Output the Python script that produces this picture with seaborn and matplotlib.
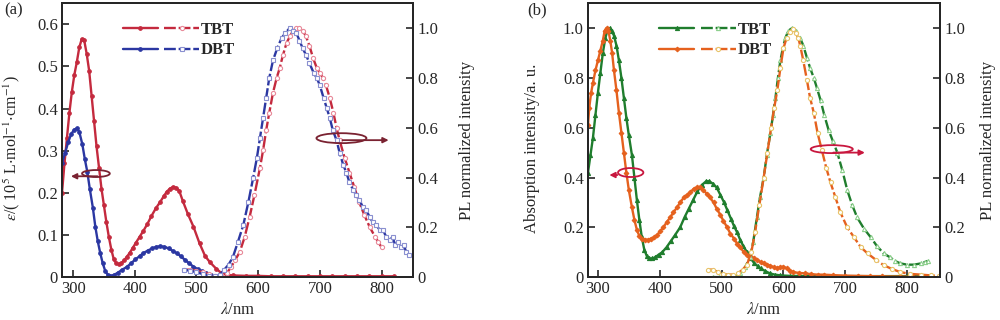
import matplotlib
matplotlib.use('Agg')
import matplotlib.pyplot as plt
import seaborn as sns
from matplotlib.patches import Ellipse
from matplotlib.legend_handler import HandlerTuple
from matplotlib.ticker import FuncFormatter

# ---- data: panel (a) ----
a_tbt_abs_x = [282, 286, 290, 294, 298, 302, 306, 310, 314, 318, 322, 326, 330, 334, 338, 342, 346, 350,
               354, 358, 362, 366, 370, 374, 378, 383, 387, 392, 397, 402, 408, 414, 420, 427, 434, 441,
               447, 452, 457, 462, 467, 472, 478, 486, 495, 505, 514, 522, 532, 540, 550, 560, 580, 600,
               620, 640, 660, 680, 700, 720, 740, 760, 780, 800, 820]
a_tbt_abs_y = [0.20, 0.27, 0.33, 0.39, 0.44, 0.48, 0.51, 0.545, 0.565, 0.562, 0.53, 0.49, 0.43, 0.37, 0.31,
               0.26, 0.21, 0.17, 0.13, 0.095, 0.065, 0.042, 0.033, 0.03, 0.033, 0.04, 0.048, 0.058, 0.07,
               0.082, 0.096, 0.11, 0.125, 0.145, 0.163, 0.178, 0.192, 0.203, 0.21, 0.214, 0.212, 0.205,
               0.18, 0.15, 0.12, 0.08, 0.05, 0.035, 0.02, 0.01, 0.005, 0.004, 0.003, 0.003, 0.002, 0.002,
               0.002, 0.002, 0.002, 0.002, 0.002, 0.002, 0.002, 0.002, 0.002]

a_dbt_abs_x = [282, 287, 292, 297, 302, 306, 310, 315, 319, 323, 327, 332, 336, 340, 344, 348, 352, 356,
               360, 366, 372, 380, 387, 394, 401, 408, 414, 421, 428, 435, 441, 448, 455, 462, 468, 475,
               482, 488, 495, 502, 509, 516, 523, 530]
a_dbt_abs_y = [0.27, 0.295, 0.32, 0.34, 0.35, 0.353, 0.345, 0.315, 0.28, 0.25, 0.21, 0.165, 0.12, 0.085,
               0.057, 0.033, 0.015, 0.006, 0.003, 0.005, 0.01, 0.018, 0.024, 0.033, 0.042, 0.05, 0.057,
               0.063, 0.068, 0.072, 0.073, 0.072, 0.068, 0.062, 0.057, 0.049, 0.04, 0.033, 0.025, 0.019,
               0.014, 0.01, 0.006, 0.003]

a_tbt_pl_x = [480, 490, 500, 510, 520, 530, 540, 549, 556, 563, 570, 578, 586, 594, 603, 608, 613, 618,
              624, 630, 635, 640, 646, 652, 657, 662, 667, 672, 677, 683, 689, 695, 700, 705, 710, 716,
              722, 727, 732, 740, 748, 756, 764, 772, 781, 790, 795, 800]
a_tbt_pl_y = [0.03, 0.03, 0.025, 0.02, 0.012, 0.006, 0.008, 0.015, 0.04, 0.07, 0.10, 0.16, 0.24, 0.33,
              0.44, 0.51, 0.59, 0.66, 0.74, 0.80, 0.84, 0.89, 0.94, 0.97, 0.99, 1.0, 1.0, 0.99, 0.97,
              0.93, 0.88, 0.84, 0.82, 0.80, 0.77, 0.72, 0.66, 0.60, 0.55, 0.48, 0.42, 0.36, 0.30, 0.25,
              0.20, 0.16, 0.14, 0.12]

a_dbt_pl_x = [480, 490, 500, 510, 520, 530, 538, 545, 552, 559, 567, 576, 584, 592, 598, 603, 608, 613,
              618, 624, 631, 638, 644, 651, 657, 662, 667, 672, 678, 683, 690, 695, 700, 706, 711, 716,
              721, 727, 732, 738, 743, 748, 754, 759, 764, 770, 775, 781, 786, 791, 797, 802, 808, 813,
              818, 822, 827, 831, 836, 840, 844]
a_dbt_pl_y = [0.03, 0.025, 0.02, 0.012, 0.006, 0.004, 0.01, 0.03, 0.05, 0.08, 0.14, 0.21, 0.30, 0.40,
              0.48, 0.56, 0.64, 0.72, 0.80, 0.87, 0.92, 0.96, 0.98, 1.0, 0.99, 0.98, 0.95, 0.92, 0.89,
              0.86, 0.82, 0.80, 0.77, 0.72, 0.68, 0.64, 0.59, 0.55, 0.50, 0.45, 0.42, 0.38, 0.35, 0.33,
              0.31, 0.28, 0.27, 0.24, 0.22, 0.21, 0.19, 0.19, 0.16, 0.15, 0.16, 0.13, 0.14, 0.12, 0.13,
              0.10, 0.09]

# ---- data: panel (b) ----
b_tbt_abs_x = [284, 288, 292, 296, 300, 304, 308, 312, 316, 319, 322, 326, 330, 334, 338, 342, 346, 350,
               355, 359, 363, 367, 371, 375, 379, 383, 388, 393, 398, 404, 411, 418, 425, 433, 440, 447,
               454, 461, 468, 475, 480, 486, 492, 498, 504, 509, 515, 520, 525, 530, 535, 541, 547, 553,
               558, 563, 570, 578, 586, 595, 610, 640, 680, 720, 760, 800, 830]
b_tbt_abs_y = [0.42, 0.49, 0.56, 0.65, 0.74, 0.82, 0.90, 0.96, 0.995, 1.0, 0.99, 0.97, 0.93, 0.87, 0.80,
               0.72, 0.64, 0.57, 0.49, 0.40, 0.31, 0.23, 0.16, 0.11, 0.085, 0.075, 0.075, 0.08, 0.09,
               0.10, 0.12, 0.145, 0.17, 0.20, 0.24, 0.275, 0.31, 0.345, 0.37, 0.385, 0.385, 0.375, 0.36,
               0.33, 0.30, 0.27, 0.235, 0.205, 0.18, 0.15, 0.125, 0.10, 0.075, 0.055, 0.045, 0.035,
               0.025, 0.015, 0.01, 0.007, 0.005, 0.004, 0.004, 0.004, 0.004, 0.004, 0.004]

b_dbt_abs_x = [284, 286, 289, 292, 296, 300, 304, 308, 311, 314, 317, 320, 323, 326, 330, 334, 338, 342,
               346, 350, 355, 359, 363, 367, 371, 376, 381, 386, 391, 396, 401, 406, 411, 417, 422, 428,
               433, 439, 444, 449, 455, 460, 465, 470, 476, 481, 487, 492, 498, 503, 509, 514, 520, 525,
               530, 536, 541, 547, 552, 557, 563, 568, 574, 579, 584, 590, 595, 600, 605, 611, 616, 625,
               635, 645, 655, 665, 680, 700, 720, 740, 760, 789, 810]
b_dbt_abs_y = [0.61, 0.68, 0.74, 0.78, 0.83, 0.87, 0.91, 0.95, 0.99, 1.0, 0.99, 0.95, 0.90, 0.83, 0.75,
               0.66, 0.58, 0.50, 0.42, 0.35, 0.28, 0.23, 0.19, 0.165, 0.155, 0.15, 0.15, 0.155, 0.16,
               0.17, 0.185, 0.20, 0.22, 0.24, 0.26, 0.28, 0.30, 0.32, 0.33, 0.34, 0.355, 0.36, 0.36,
               0.35, 0.335, 0.32, 0.30, 0.275, 0.25, 0.225, 0.20, 0.175, 0.155, 0.135, 0.12, 0.10, 0.09,
               0.08, 0.075, 0.07, 0.06, 0.055, 0.05, 0.045, 0.04, 0.035, 0.04, 0.042, 0.035, 0.025,
               0.02, 0.017, 0.015, 0.012, 0.01, 0.01, 0.008, 0.006, 0.005, 0.004, 0.003, 0.002, 0.002]

b_tbt_pl_x = [486, 495, 505, 515, 522, 530, 538, 546, 551, 557, 562, 568, 573, 579, 583, 587, 591, 595,
              599, 603, 608, 614, 620, 627, 632, 638, 643, 649, 654, 660, 666, 673, 680, 687, 695, 703,
              711, 719, 730, 741, 751, 762, 772, 780, 789, 800, 811, 822, 828, 833]
b_tbt_pl_y = [0.0, 0.0, 0.0, 0.002, 0.005, 0.015, 0.04, 0.08, 0.14, 0.24, 0.32, 0.40, 0.49, 0.58, 0.65,
              0.72, 0.80, 0.87, 0.92, 0.96, 0.99, 1.0, 0.99, 0.96, 0.93, 0.88, 0.84, 0.80, 0.76, 0.71,
              0.65, 0.59, 0.545, 0.50, 0.43, 0.35, 0.29, 0.24, 0.195, 0.16, 0.125, 0.095, 0.08, 0.065,
              0.055, 0.05, 0.05, 0.055, 0.06, 0.065]

b_dbt_pl_x = [478, 486, 494, 502, 510, 518, 526, 534, 541, 548, 554, 561, 568, 574, 580, 585, 590, 595,
              600, 605, 610, 616, 620, 624, 627, 632, 638, 643, 649, 655, 662, 669, 676, 684, 692, 703,
              714, 725, 736, 749, 762, 775, 789, 805, 822, 838, 852]
b_dbt_pl_y = [0.03, 0.03, 0.02, 0.012, 0.01, 0.01, 0.015, 0.03, 0.05, 0.10, 0.18, 0.29, 0.40, 0.50,
              0.60, 0.68, 0.75, 0.84, 0.92, 0.96, 0.985, 0.995, 0.98, 0.96, 0.93, 0.87, 0.79, 0.72, 0.66,
              0.58, 0.51, 0.44, 0.38, 0.32, 0.26, 0.20, 0.16, 0.12, 0.095, 0.07, 0.048, 0.033, 0.02,
              0.013, 0.01, 0.007, 0.005]

sns.set_style('ticks')
plt.rcParams['font.family'] = ['Liberation Serif', 'DejaVu Serif']
plt.rcParams['mathtext.fontset'] = 'stix'
FS = 12


def zero_fmt(v, pos):
    return '0' if abs(v) < 1e-9 else f'{v:.1f}'


def style_axes(ax, ax2, xlim, ylim):
    ax.set_xlim(*xlim)
    ax.set_ylim(*ylim)
    ax2.set_ylim(0, 1.1)
    ax.set_xticks([300, 400, 500, 600, 700, 800])
    ax2.set_yticks([0, 0.2, 0.4, 0.6, 0.8, 1.0])
    ax.yaxis.set_major_formatter(FuncFormatter(zero_fmt))
    ax2.yaxis.set_major_formatter(FuncFormatter(zero_fmt))
    for a in (ax, ax2):
        a.tick_params(direction='in', length=5, width=1.2, labelsize=FS, pad=3)
        for s in a.spines.values():
            s.set_linewidth(1.4)
            s.set_visible(True)
    ax.set_xlabel(r'$\lambda$/nm', fontsize=FS)
    ax.xaxis.set_label_coords(0.5, -0.09)
    ax2.set_ylabel('PL normalized intensity', fontsize=FS, rotation=90)


def plot_series(ax, x, y, color, marker, dashed, mec=None, ms=3):
    kw = dict(color=color, marker=marker, markersize=ms, linewidth=1.7, estimator=None,
              ax=ax, legend=False)
    if dashed:
        kw.update(markerfacecolor='white', markeredgecolor=mec or color,
                  markeredgewidth=0.8)
    else:
        kw.update(markerfacecolor=color, markeredgecolor=color)
    sns.lineplot(x=x, y=y, **kw)
    line = ax.lines[-1]
    if dashed:
        line.set_dashes((5, 1.2))
    return line


def ring(ax, cx, cy, w, h, x0, x1, ya, color):
    ax.add_patch(Ellipse((cx, cy), w, h, fill=False, edgecolor=color, lw=1.3, zorder=6))
    ax.annotate('', xy=(x1, ya), xytext=(x0, ya),
                arrowprops=dict(arrowstyle='-|>', color=color, lw=1.3, mutation_scale=8),
                zorder=6)


fig = plt.figure(figsize=(10, 3.2), dpi=100)

# ---------------- panel (a) ----------------
ax = fig.add_axes([0.062, 0.134, 0.351, 0.856])
ax2 = ax.twinx()
red, blue = '#c42a3e', '#2b37a2'
l1 = plot_series(ax, a_tbt_abs_x, a_tbt_abs_y, red, 'o', False, ms=2.6)
l2 = plot_series(ax, a_dbt_abs_x, a_dbt_abs_y, blue, 'o', False, ms=2.6)
l3 = plot_series(ax2, a_tbt_pl_x, a_tbt_pl_y, red, 'o', True, mec='#e88a9a')
l4 = plot_series(ax2, a_dbt_pl_x, a_dbt_pl_y, blue, 's', True, mec='#8a90d0', ms=2.6)
style_axes(ax, ax2, (282, 851), (0, 0.65))
ax.set_yticks([0, 0.1, 0.2, 0.3, 0.4, 0.5, 0.6])
ax.set_ylabel(r'$\varepsilon$/( 10$^5$ L$\cdot$mol$^{-1}$$\cdot$cm$^{-1}$)', fontsize=11.5)
ax.yaxis.set_label_coords(-0.115, 0.47)
ax2.yaxis.set_label_coords(1.13, 0.5)
ax2.legend(handles=[(l1, l3), (l2, l4)], labels=['TBT', 'DBT'],
           handler_map={tuple: HandlerTuple(ndivide=None, pad=0.4)},
           loc='upper left', bbox_to_anchor=(0.13, 0.985), frameon=False, handlelength=4.6,
           handletextpad=0.1, labelspacing=0.25, prop={'weight': 'bold', 'size': FS})
arc_a = '#7a2231'
ring(ax2, 337, 0.416, 45, 0.028, 344, 292, 0.405, arc_a)
ring(ax2, 735, 0.558, 81, 0.04, 732, 816, 0.55, arc_a)
fig.text(0.004, 0.955, '(a)', fontsize=FS)

# ---------------- panel (b) ----------------
bx = fig.add_axes([0.588, 0.134, 0.352, 0.856])
bx2 = bx.twinx()
green, orange = '#1f7d2d', '#e5611e'
m1 = plot_series(bx, b_tbt_abs_x, b_tbt_abs_y, green, '^', False, ms=3)
m2 = plot_series(bx, b_dbt_abs_x, b_dbt_abs_y, orange, 'D', False, ms=2.4)
m3 = plot_series(bx2, b_tbt_pl_x, b_tbt_pl_y, green, '^', True, mec='#8ccf8c')
m4 = plot_series(bx2, b_dbt_pl_x, b_dbt_pl_y, orange, 'o', True, mec='#e8c46a')
style_axes(bx, bx2, (284, 853), (0, 1.1))
bx.set_yticks([0, 0.2, 0.4, 0.6, 0.8, 1.0])
bx.set_ylabel('Absorption intensity/a. u.', fontsize=FS)
bx.yaxis.set_label_coords(-0.135, 0.47)
bx2.yaxis.set_label_coords(1.115, 0.5)
bx2.legend(handles=[(m1, m3), (m2, m4)], labels=['TBT', 'DBT'],
           handler_map={tuple: HandlerTuple(ndivide=None, pad=0.4)},
           loc='upper left', bbox_to_anchor=(0.16, 0.985), frameon=False, handlelength=4.6,
           handletextpad=0.1, labelspacing=0.25, prop={'weight': 'bold', 'size': FS})
arc_b = '#c8173e'
ring(bx2, 353, 0.42, 41, 0.036, 336, 314, 0.41, arc_b)
ring(bx2, 678, 0.514, 68, 0.032, 676, 736, 0.50, arc_b)
fig.text(0.527, 0.955, '(b)', fontsize=FS)

fig.savefig('out.png', dpi=100)
